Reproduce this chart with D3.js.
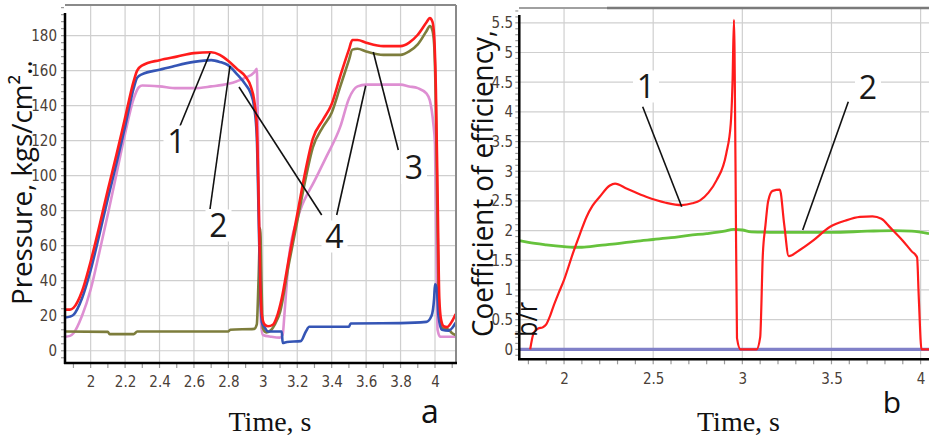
<!DOCTYPE html>
<html>
<head>
<meta charset="utf-8">
<script src="https://cdn.jsdelivr.net/npm/d3@7"></script>
<style>
  body { margin: 0; background: #fff; }
  svg { display: block; }
</style>
</head>
<body>
<div id="wrapper"></div>
<script>
// ---- panel a: pressure curves [time, kgs/cm2] ----
const red1 = [[1.85,23.5],[1.88,23.5],[1.9,24.5],[1.95,34],[2.0,51],[2.05,71],[2.1,92],[2.15,112],[2.2,133],[2.25,154],[2.27,160],[2.3,163],[2.4,166],[2.5,168],[2.6,170],[2.7,170.5],[2.75,169],[2.8,165.5],[2.85,161],[2.9,156.5],[2.93,151],[2.95,143],[2.965,128],[2.975,90],[2.985,40],[2.995,20],[3.01,15],[3.03,14],[3.06,15],[3.08,19],[3.11,30],[3.15,52],[3.2,78],[3.25,104],[3.29,121],[3.35,132],[3.4,141],[3.45,157],[3.5,172],[3.52,177.5],[3.55,177.5],[3.6,176],[3.7,174],[3.8,174],[3.85,176],[3.9,180.5],[3.95,187.5],[3.97,190],[3.985,188],[3.995,180],[4.005,150],[4.015,90],[4.025,30],[4.035,18],[4.05,14],[4.07,13.5],[4.1,17],[4.12,21]]
const blue2 = [[1.85,19],[1.88,19.5],[1.9,20.5],[1.95,30],[2.0,46],[2.05,66],[2.1,87],[2.15,107],[2.2,128],[2.25,150],[2.27,156],[2.3,158],[2.4,160.5],[2.5,163],[2.6,165],[2.7,166],[2.75,165],[2.8,163],[2.85,158],[2.9,152],[2.93,147],[2.95,139],[2.965,122],[2.975,80],[2.985,35],[2.995,16],[3.01,13.5],[3.03,11],[3.11,11],[3.115,4.5],[3.14,5],[3.22,5.5],[3.25,11],[3.27,13.7],[3.5,13.7],[3.51,15.6],[3.8,15.8],[3.95,16.5],[3.98,20],[3.995,30],[4.0,38],[4.01,36],[4.02,20],[4.04,12],[4.08,11.5],[4.1,13],[4.12,16]]
const olive3 = [[1.85,11],[2.1,10.8],[2.11,9.5],[2.25,9.5],[2.27,11],[2.8,11],[2.81,12],[2.95,12.5],[2.965,15],[2.975,40],[2.985,70],[2.992,40],[3.0,13],[3.02,10.5],[3.05,12],[3.07,15],[3.1,22],[3.15,49],[3.2,74],[3.25,99],[3.29,116],[3.35,128],[3.4,136],[3.45,151],[3.5,166],[3.52,172],[3.55,172.5],[3.6,171],[3.7,169],[3.8,169],[3.85,171],[3.9,175],[3.95,182.5],[3.97,185.5],[3.985,183],[3.995,175],[4.005,140],[4.015,70],[4.025,20],[4.04,13],[4.08,12],[4.1,10],[4.12,9]]
const pink4 = [[1.85,8],[1.88,8.5],[1.9,10],[1.95,20],[2.0,35],[2.05,56],[2.1,78],[2.15,101],[2.2,124],[2.25,144],[2.28,150.5],[2.3,151.5],[2.4,151],[2.5,150],[2.6,150],[2.7,151],[2.8,152.5],[2.85,154],[2.9,156],[2.95,159],[2.965,161],[2.97,140],[2.98,60],[2.99,15],[3.0,9],[3.05,8],[3.1,7.5],[3.115,9],[3.125,20],[3.14,40],[3.15,52],[3.2,75],[3.22,81],[3.3,97],[3.37,111],[3.45,128],[3.5,144],[3.55,151],[3.6,152],[3.8,152],[3.85,151],[3.9,150],[3.95,147],[3.97,143],[3.99,130],[4.0,118],[4.008,60],[4.015,12],[4.03,8],[4.12,8]]

const pressureTicks = [0, 20, 40, 60, 80, 100, 120, 140, 160, 180]
const timeTicksA = [2, 2.2, 2.4, 2.6, 2.8, 3, 3.2, 3.4, 3.6, 3.8, 4]

// ---- panel b: coefficient of efficiency [time, b/r] ----
const redB = [[1.81,0],[1.83,0.28],[1.855,0.35],[1.88,0.37],[1.9,0.42],[1.92,0.55],[1.94,0.72],[1.97,0.95],[2.0,1.17],[2.05,1.62],[2.09,1.95],[2.126,2.23],[2.16,2.42],[2.2,2.57],[2.257,2.76],[2.286,2.79],[2.35,2.71],[2.46,2.57],[2.57,2.47],[2.66,2.43],[2.72,2.46],[2.763,2.51],[2.81,2.64],[2.856,2.85],[2.91,3.3],[2.935,3.8],[2.945,4.5],[2.953,5.55],[2.962,3.0],[2.97,0.19],[2.99,0],[3.08,0],[3.1,0.2],[3.115,1.6],[3.13,2.1],[3.145,2.5],[3.17,2.67],[3.21,2.69],[3.235,2.1],[3.26,1.57],[3.32,1.67],[3.4,1.84],[3.49,2.06],[3.58,2.17],[3.66,2.23],[3.73,2.24],[3.78,2.2],[3.83,2.05],[3.9,1.83],[3.95,1.65],[3.98,1.55],[3.99,0.85],[4.005,0],[4.047,0]]
const greenB = [[1.749,1.83],[1.8,1.8],[1.9,1.76],[2.0,1.73],[2.05,1.72],[2.1,1.72],[2.2,1.75],[2.3,1.78],[2.4,1.82],[2.5,1.85],[2.6,1.88],[2.7,1.92],[2.8,1.95],[2.9,1.99],[2.95,2.02],[3.0,2.01],[3.05,1.98],[3.2,1.97],[3.5,1.97],[3.7,1.99],[3.85,2.0],[3.95,1.99],[4.047,1.95]]
const blueB = [[1.749,0],[4.047,0]]

const effTicks = [0, 0.5, 1, 1.5, 2, 2.5, 3, 3.5, 4, 4.5, 5, 5.5]
const timeTicksB = [2, 2.5, 3, 3.5, 4]

const tickFont = "'Liberation Sans Narrow', 'DejaVu Sans Condensed', sans-serif"
const tickColor = "#4a4038"
const sans = "'Open Sans', 'Noto Sans', sans-serif"

const svg = d3.select('#wrapper')
    .append('svg')
    .attr('width', 929)
    .attr('height', 438)

// scales
const xA = d3.scaleLinear().domain([1.851, 4.122]).range([65, 456])
const yA = d3.scaleLinear().domain([-7, 197.5]).range([363, 5])
const xB = d3.scaleLinear().domain([1.749, 4.047]).range([519.3, 929])
const yB = d3.scaleLinear().domain([-0.168, 5.75]).range([359.3, 8])

function drawGrid(g, x, y, xt, yt) {
    const [x0, x1] = x.range()
    const [y1, y0] = y.range()
    g.selectAll('line.gx').data(xt).join('line')
        .attr('x1', d => x(d)).attr('x2', d => x(d))
        .attr('y1', y0).attr('y2', y1)
        .attr('stroke', '#cfcfcf').attr('stroke-width', 1.2)
    g.selectAll('line.gy').data(yt).join('line')
        .attr('y1', d => y(d)).attr('y2', d => y(d))
        .attr('x1', x0).attr('x2', x1)
        .attr('stroke', '#cfcfcf').attr('stroke-width', 1.2)
}

function minorTicks(g, x, y, xStep, yStep) {
    const [x0, x1] = x.range()
    const [y1, y0] = y.range()
    const xs = d3.range(Math.ceil(x.domain()[0] / xStep) * xStep, x.domain()[1], xStep)
    const ys = d3.range(Math.ceil(y.domain()[0] / yStep) * yStep, y.domain()[1], yStep)
    g.append('g').selectAll('line').data(xs).join('line')
        .attr('x1', d => x(d)).attr('x2', d => x(d))
        .attr('y1', y1 + 1).attr('y2', y1 + 5)
        .attr('stroke', '#9a9a9a').attr('stroke-width', 1.2)
    g.append('g').selectAll('line').data(ys).join('line')
        .attr('y1', d => y(d)).attr('y2', d => y(d))
        .attr('x1', x0 - 4).attr('x2', x0 - 1)
        .attr('stroke', '#9a9a9a').attr('stroke-width', 1.2)
}

function styleAxis(g) {
    g.select('.domain').remove()
    g.selectAll('.tick line').remove()
    g.selectAll('text')
        .attr('fill', tickColor)
        .style('font-family', tickFont)
        .style('font-size', '15px')
}

const line = (x, y) => d3.line().x(d => x(d[0])).y(d => y(d[1])).curve(d3.curveMonotoneX)

// ---------- panel a ----------
const pa = svg.append('g')
pa.append('clipPath').attr('id', 'clipA').append('rect')
    .attr('x', 65).attr('y', 5).attr('width', 391).attr('height', 358)
drawGrid(pa.append('g'), xA, yA, timeTicksA, pressureTicks)
minorTicks(pa, xA, yA, 0.1, 4)

pa.append('g').attr('transform', 'translate(65,0)')
    .call(d3.axisLeft(yA).tickValues(pressureTicks).tickSize(0).tickPadding(8))
    .call(styleAxis)
pa.append('g').attr('transform', 'translate(0,370)')
    .call(d3.axisBottom(xA).tickValues(timeTicksA).tickSize(0).tickPadding(6).tickFormat(d3.format('')))
    .call(styleAxis)

const curvesA = [
    { data: pink4, color: '#de8fd2' },
    { data: olive3, color: '#7d7d3c' },
    { data: blue2, color: '#3555b5' },
    { data: red1, color: '#ff1c1c' }
]
pa.append('g').attr('clip-path', 'url(#clipA)')
    .selectAll('path').data(curvesA).join('path')
    .attr('d', d => line(xA, yA)(d.data))
    .attr('fill', 'none')
    .attr('stroke', d => d.color)
    .attr('stroke-width', 2.6)

// frame
pa.append('line').attr('x1', 65).attr('x2', 456).attr('y1', 5).attr('y2', 5).attr('stroke', '#8a8a8a').attr('stroke-width', 2)
pa.append('line').attr('x1', 456).attr('x2', 456).attr('y1', 5).attr('y2', 363).attr('stroke', '#8a8a8a').attr('stroke-width', 2)
pa.append('line').attr('x1', 65).attr('x2', 65).attr('y1', 13).attr('y2', 364).attr('stroke', '#000').attr('stroke-width', 2.5)
pa.append('line').attr('x1', 64).attr('x2', 457).attr('y1', 363).attr('y2', 363).attr('stroke', '#000').attr('stroke-width', 2.5)

// ---------- panel b ----------
const pb = svg.append('g')
pb.append('clipPath').attr('id', 'clipB').append('rect')
    .attr('x', 519.3).attr('y', 8).attr('width', 410).attr('height', 351.3)
drawGrid(pb.append('g'), xB, yB, timeTicksB, effTicks)
minorTicks(pb, xB, yB, 0.1, 0.1)

pb.append('g').attr('transform', 'translate(513,0)')
    .call(d3.axisLeft(yB).tickValues(effTicks).tickSize(0).tickPadding(0).tickFormat(d3.format('')))
    .call(styleAxis)
pb.append('g').attr('transform', 'translate(0,367)')
    .call(d3.axisBottom(xB).tickValues(timeTicksB).tickSize(0).tickPadding(6).tickFormat(d3.format('')))
    .call(styleAxis)

const curvesB = [
    { data: blueB, color: '#8080c8', w: 3.2 },
    { data: greenB, color: '#66c23c', w: 2.8 },
    { data: redB, color: '#ff1c1c', w: 2.2 }
]
pb.append('g').attr('clip-path', 'url(#clipB)')
    .selectAll('path').data(curvesB).join('path')
    .attr('d', d => line(xB, yB)(d.data))
    .attr('fill', 'none')
    .attr('stroke', d => d.color)
    .attr('stroke-width', d => d.w)

pb.append('line').attr('x1', 519).attr('x2', 607).attr('y1', 8).attr('y2', 8).attr('stroke', '#a0a0a0').attr('stroke-width', 2.2)
pb.append('line').attr('x1', 607).attr('x2', 929).attr('y1', 8).attr('y2', 8).attr('stroke', '#7a7a7a').attr('stroke-width', 2.5)
pb.append('line').attr('x1', 519.3).attr('x2', 519.3).attr('y1', 15).attr('y2', 360).attr('stroke', '#000').attr('stroke-width', 2.5)
pb.append('line').attr('x1', 518).attr('x2', 929).attr('y1', 359.3).attr('y2', 359.3).attr('stroke', '#000').attr('stroke-width', 2.5)

// ---------- annotations ----------
const leaders = [
    [180, 126, 210, 53], [210, 209, 230, 66], [321.7, 215, 239, 87],
    [336.7, 215, 365.7, 85.7], [398.3, 150, 373.3, 52],
    [642.7, 106.7, 681.7, 206.7], [848.3, 101.7, 802.7, 230]
]
svg.append('g').selectAll('line').data(leaders).join('line')
    .attr('x1', d => d[0]).attr('y1', d => d[1])
    .attr('x2', d => d[2]).attr('y2', d => d[3])
    .attr('stroke', '#111').attr('stroke-width', 1.6)

const marks = [
    { t: '1', x: 176.5, y: 141.5 }, { t: '2', x: 218.5, y: 225.5 },
    { t: '4', x: 334.5, y: 236.5 }, { t: '3', x: 414, y: 168 },
    { t: '1', x: 646, y: 86.5 }, { t: '2', x: 868, y: 87.5 }
]
const mg = svg.append('g')
mg.selectAll('rect').data(marks).join('rect')
    .attr('x', d => d.x - 13).attr('y', d => d.y - 16)
    .attr('width', 26).attr('height', 32).attr('fill', '#fff')
mg.selectAll('text').data(marks).join('text')
    .attr('x', d => d.x).attr('y', d => d.y + 11.4)
    .attr('text-anchor', 'middle')
    .style('font-family', sans).style('font-size', '32px')
    .attr('fill', '#1a1a1a')
    .text(d => d.t)

// axis titles
svg.append('text')
    .attr('transform', 'translate(32,305) rotate(-90)')
    .attr('textLength', 245).attr('lengthAdjust', 'spacingAndGlyphs')
    .style('font-family', sans).style('font-size', '28px').attr('fill', '#111')
    .text('Pressure, kgs/cm²‥')
svg.append('text')
    .attr('transform', 'translate(493,337) rotate(-90)')
    .attr('textLength', 307).attr('lengthAdjust', 'spacingAndGlyphs')
    .style('font-family', sans).style('font-size', '30px').attr('fill', '#111')
    .text('Coefficient of efficiency,')
svg.append('text')
    .attr('transform', 'translate(537,337) rotate(-90)')
    .attr('textLength', 35).attr('lengthAdjust', 'spacingAndGlyphs')
    .style('font-family', sans).style('font-size', '30px').attr('fill', '#111')
    .text('b/r')

svg.selectAll('text.xt').data([270, 738.5]).join('text')
    .attr('x', d => d).attr('y', 431)
    .attr('text-anchor', 'middle')
    .style('font-family', "'Liberation Serif', 'DejaVu Serif', serif").style('font-size', '28px')
    .attr('fill', '#111')
    .text('Time, s')

svg.append('text').attr('x', 430).attr('y', 423).attr('text-anchor', 'middle')
    .style('font-family', sans).style('font-size', '32px').attr('fill', '#111').text('a')
svg.append('text').attr('x', 892).attr('y', 413).attr('text-anchor', 'middle')
    .style('font-family', sans).style('font-size', '30px').attr('fill', '#111').text('b')
</script>
</body>
</html>
